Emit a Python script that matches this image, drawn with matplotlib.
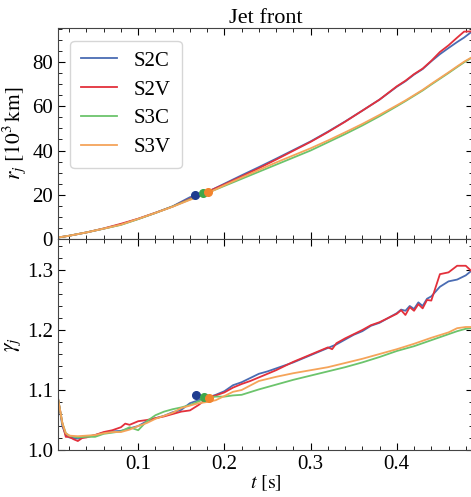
import matplotlib
matplotlib.use("Agg")
import matplotlib.pyplot as plt
from matplotlib.ticker import MultipleLocator

plt.rcParams['font.family'] = ['Liberation Serif', 'DejaVu Serif']
plt.rcParams['mathtext.fontset'] = 'stix'

labels = ["S2C", "S2V", "S3C", "S3V"]
colors = ["#4a6cb3", "#e3303b", "#6cc46c", "#f5a45a"]
marker_colors = ["#1f3c8f", "#d62030", "#3fa64a", "#f2842e"]

# ---- top panel: jet front radius [10^3 km]
t_r = [0.007, 0.02, 0.04, 0.06, 0.08, 0.10, 0.12, 0.14, 0.16, 0.18, 0.20, 0.22, 0.24, 0.26,
       0.28, 0.30, 0.32, 0.34, 0.36, 0.38, 0.40, 0.41, 0.42, 0.43, 0.44, 0.45, 0.46, 0.47,
       0.478, 0.486]
r_S2C = [0.7, 1.5, 3.0, 4.7, 6.6, 9.1, 11.8, 14.8, 18.9, 21.2, 25.0, 28.8, 32.5, 36.3, 40.2,
         44.1, 48.5, 53.1, 58.0, 63.0, 68.8, 71.3, 74.3, 76.8, 80.3, 83.5, 86.3, 89.0, 91.0, 93.4]
r_S2V = [0.7, 1.5, 3.0, 4.8, 6.9, 9.2, 11.9, 14.7, 18.2, 21.3, 24.7, 28.3, 32.0, 35.9, 39.9,
         43.9, 48.3, 53.0, 58.0, 63.0, 69.0, 71.5, 74.5, 77.0, 80.5, 84.5, 87.5, 91.0, 93.7, 93.8]
r_S3C = [0.7, 1.5, 3.0, 4.7, 6.4, 9.0, 11.8, 14.7, 17.9, 20.8, 24.0, 27.2, 30.4, 33.6, 36.8,
         40.0, 43.7, 47.4, 51.3, 55.5, 60.0, 62.3, 64.7, 67.1, 69.8, 72.4, 75.0, 77.7, 79.8, 81.7]
r_S3V = [0.7, 1.5, 3.0, 4.7, 6.5, 9.1, 11.8, 14.6, 17.7, 20.6, 24.3, 27.8, 31.2, 34.6, 37.8,
         41.0, 44.5, 48.2, 52.0, 56.1, 60.4, 62.6, 65.0, 67.4, 70.1, 72.7, 75.3, 78.0, 80.1, 81.9]

# ---- bottom panel: Lorentz factor
t_g2 = [0.007, 0.012, 0.016, 0.02, 0.025, 0.03, 0.035, 0.04, 0.05, 0.06, 0.07, 0.08, 0.085,
        0.09, 0.10, 0.11, 0.12, 0.13, 0.14, 0.15, 0.16, 0.17, 0.18, 0.19, 0.20, 0.21, 0.22,
        0.23, 0.24, 0.25, 0.26, 0.27, 0.28, 0.29, 0.30, 0.31, 0.32, 0.325, 0.33, 0.34, 0.35,
        0.36, 0.37, 0.38, 0.39, 0.40, 0.405, 0.41, 0.415, 0.42, 0.425, 0.43, 0.435, 0.44,
        0.45, 0.46, 0.47, 0.48, 0.486]
g_S2C = [1.086, 1.040, 1.025, 1.021, 1.020, 1.019, 1.021, 1.022, 1.025, 1.029, 1.031, 1.032,
         1.034, 1.036, 1.040, 1.048, 1.053, 1.057, 1.063, 1.067, 1.078, 1.083, 1.087, 1.092,
         1.098, 1.108, 1.113, 1.120, 1.127, 1.131, 1.136, 1.141, 1.146, 1.152, 1.158, 1.164,
         1.170, 1.173, 1.176, 1.184, 1.192, 1.198, 1.207, 1.212, 1.220, 1.228, 1.234, 1.232,
         1.240, 1.235, 1.246, 1.240, 1.252, 1.256, 1.272, 1.281, 1.284, 1.291, 1.298]
g_S2V = [1.086, 1.045, 1.022, 1.022, 1.018, 1.015, 1.020, 1.021, 1.025, 1.030, 1.033, 1.038,
         1.044, 1.042, 1.048, 1.050, 1.053, 1.056, 1.060, 1.064, 1.066, 1.075, 1.086, 1.091,
         1.096, 1.104, 1.110, 1.115, 1.121, 1.127, 1.133, 1.140, 1.147, 1.153, 1.159, 1.165,
         1.171, 1.168, 1.178, 1.186, 1.193, 1.200, 1.208, 1.213, 1.220, 1.227, 1.233, 1.225,
         1.238, 1.232, 1.243, 1.236, 1.250, 1.249, 1.293, 1.296, 1.307, 1.307, 1.299]
t_g3 = [0.007, 0.012, 0.016, 0.02, 0.03, 0.04, 0.05, 0.06, 0.07, 0.08, 0.09, 0.10, 0.11,
        0.12, 0.13, 0.14, 0.15, 0.16, 0.17, 0.18, 0.19, 0.20, 0.21, 0.22, 0.24, 0.26, 0.28,
        0.30, 0.32, 0.34, 0.36, 0.38, 0.40, 0.42, 0.44, 0.46, 0.47, 0.48, 0.486]
g_S3C = [1.086, 1.045, 1.028, 1.024, 1.021, 1.022, 1.022, 1.027, 1.029, 1.031, 1.038, 1.033,
         1.048, 1.058, 1.064, 1.068, 1.071, 1.075, 1.081, 1.087, 1.089, 1.089, 1.091, 1.092,
         1.101, 1.109, 1.117, 1.124, 1.131, 1.138, 1.146, 1.155, 1.165, 1.173, 1.183, 1.193,
         1.198, 1.202, 1.203]
g_S3V = [1.086, 1.045, 1.028, 1.024, 1.023, 1.024, 1.025, 1.028, 1.030, 1.030, 1.034, 1.040,
         1.045, 1.052, 1.057, 1.062, 1.070, 1.074, 1.078, 1.080, 1.083, 1.090, 1.097, 1.100,
         1.115, 1.122, 1.128, 1.133, 1.138, 1.145, 1.152, 1.160, 1.168, 1.177, 1.187, 1.196,
         1.203, 1.205, 1.205]

# markers (break-out points)
mk_t = [0.166, None, 0.175, 0.181]
mk_r = [20.0, None, 20.8, 21.2]
mk_tg = [0.167, None, 0.176, 0.182]
mk_g = [1.091, None, 1.089, 1.0875]

fig = plt.figure(figsize=(4.71, 4.97), dpi=100)
ax1 = fig.add_axes([0.123, 0.519, 0.882, 0.4245])
ax2 = fig.add_axes([0.123, 0.0945, 0.882, 0.4245])

r_series = [(t_r, r_S2C), (t_r, r_S2V), (t_r, r_S3C), (t_r, r_S3V)]
g_series = [(t_g2, g_S2C), (t_g2, g_S2V), (t_g3, g_S3C), (t_g3, g_S3V)]

for i in range(4):
    ax1.plot(*r_series[i], color=colors[i], lw=1.3, label=labels[i])
    ax2.plot(*g_series[i], color=colors[i], lw=1.3)
for i in range(4):
    if mk_t[i] is not None:
        ax1.plot(mk_t[i], mk_r[i], 'o', color=marker_colors[i], ms=5.5, zorder=5)
        ax2.plot(mk_tg[i], mk_g[i], 'o', color=marker_colors[i], ms=5.5, zorder=5)

xl = (0.0069, 0.4888)
for ax in (ax1, ax2):
    ax.set_xlim(*xl)
    ax.xaxis.set_major_locator(MultipleLocator(0.1))
    ax.xaxis.set_minor_locator(MultipleLocator(0.02))
    ax.tick_params(which='both', direction='in', top=True, right=True, labelsize=15)
    ax.tick_params(which='major', length=5, width=0.8)
    ax.tick_params(which='minor', length=3, width=0.6)
    for s in ax.spines.values():
        s.set_color('#444444')

ax1.set_ylim(0, 95.3)
ax1.yaxis.set_major_locator(MultipleLocator(20))
ax1.yaxis.set_minor_locator(MultipleLocator(5))
ax1.tick_params(labelbottom=False)
ax1.set_ylabel(r'$r_j\ [10^3\,\mathrm{km}]$', fontsize=15.5, labelpad=3)
ax1.set_title('Jet front', fontsize=16, pad=4)
leg = ax1.legend(loc='upper left', fontsize=15, frameon=True, fancybox=True,
                 handlelength=1.75, handletextpad=0.8, borderpad=0.5, labelspacing=0.45,
                 borderaxespad=0.6)
leg.get_frame().set_edgecolor('#cccccc')

ax2.set_ylim(1.0, 1.3515)
ax2.yaxis.set_major_locator(MultipleLocator(0.1))
ax2.yaxis.set_minor_locator(MultipleLocator(0.02))
ax2.set_yticks([1.0, 1.1, 1.2, 1.3])
ax2.set_yticklabels(['1.0', '1.1', '1.2', '1.3'])
ax2.set_xticks([0.1, 0.2, 0.3, 0.4])
ax2.set_xticklabels(['0.1', '0.2', '0.3', '0.4'])
ax2.set_ylabel(r'$\gamma_j$', fontsize=15.5, labelpad=3)
ax2.set_xlabel(r'$t\ [\mathrm{s}]$', fontsize=14.5, labelpad=0)

fig.savefig('out.png', dpi=100)
